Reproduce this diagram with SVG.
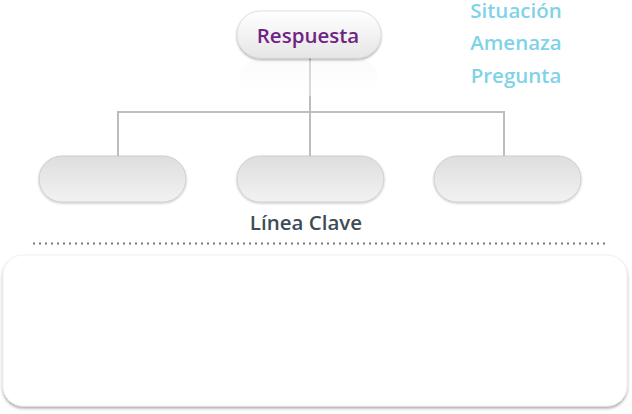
<svg xmlns="http://www.w3.org/2000/svg" width="632" height="414" viewBox="0 0 632 414">
<defs>
<linearGradient id="pillTop" x1="0" y1="0" x2="0" y2="1">
<stop offset="0" stop-color="#ffffff"/>
<stop offset="1" stop-color="#e6e6e6"/>
</linearGradient>
<linearGradient id="pillGrey" x1="0" y1="0" x2="0" y2="1">
<stop offset="0" stop-color="#dedede"/>
<stop offset="0.5" stop-color="#e8e8e8"/>
<stop offset="1" stop-color="#f2f2f2"/>
</linearGradient>
<linearGradient id="refl" x1="0" y1="0" x2="0" y2="1">
<stop offset="0" stop-color="#f6f6f6"/>
<stop offset="1" stop-color="#ffffff"/>
</linearGradient>
<filter id="sh" x="-10%" y="-20%" width="120%" height="160%">
<feDropShadow dx="0" dy="1.5" stdDeviation="1" flood-color="#000" flood-opacity="0.35"/>
</filter>
<filter id="shBox" x="-5%" y="-10%" width="110%" height="125%">
<feDropShadow dx="0" dy="2" stdDeviation="1.5" flood-color="#000" flood-opacity="0.35"/>
</filter>
<filter id="inner" x="-10%" y="-20%" width="120%" height="160%">
<feDropShadow dx="0" dy="1" stdDeviation="0.8" flood-color="#000" flood-opacity="0.25"/>
</filter>
</defs>
<style>
.conn{fill:none;stroke:#bdbdbd;stroke-width:2}
.pill{fill:url(#pillGrey);stroke:#c8c8c8;stroke-width:0.8;filter:url(#inner)}
.lbl{font-family:"Open Sans","Liberation Sans",sans-serif;font-weight:600}
.side{fill:#7fd3e8;font-size:20.5px}
</style>
<rect width="632" height="414" fill="#ffffff"/>
<g id="connectors">
<path class="conn" d="M310 58 V112 M118 157 V112 H504 V157 M310 112 V157"/>
</g>
<g id="respuesta">
<rect x="240" y="60" width="138" height="36" rx="18" fill="url(#refl)" opacity="0.45"/>
<rect x="237" y="11" width="144" height="47" rx="23.5" fill="url(#pillTop)" stroke="#d8d8d8" stroke-width="0.8" filter="url(#sh)"/>
<text class="lbl" x="308" y="43" text-anchor="middle" font-size="20.5" fill="#6f2484">Respuesta</text>
</g>
<g id="node-left">
<rect class="pill" x="39" y="156" width="147" height="46" rx="23"/>
</g>
<g id="node-middle">
<rect class="pill" x="237" y="156" width="147" height="46" rx="23"/>
</g>
<g id="node-right">
<rect class="pill" x="434" y="156" width="147" height="46" rx="23"/>
</g>
<g id="linea-clave">
<text class="lbl" x="306" y="230" text-anchor="middle" font-size="20.5" fill="#3e4c56">Línea Clave</text>
</g>
<g id="side-labels">
<text class="lbl side" x="516" y="18" text-anchor="middle">Situación</text>
<text class="lbl side" x="516" y="50" text-anchor="middle">Amenaza</text>
<text class="lbl side" x="516" y="83" text-anchor="middle">Pregunta</text>
</g>
<line x1="33" y1="243.5" x2="606" y2="243.5" stroke="#6e7a83" stroke-width="2" stroke-dasharray="2 4"/>
<g id="box">
<rect x="3" y="255" width="624" height="151" rx="20" fill="#ffffff" stroke="#eeeeee" stroke-width="0.8" filter="url(#shBox)"/>
</g>
</svg>
